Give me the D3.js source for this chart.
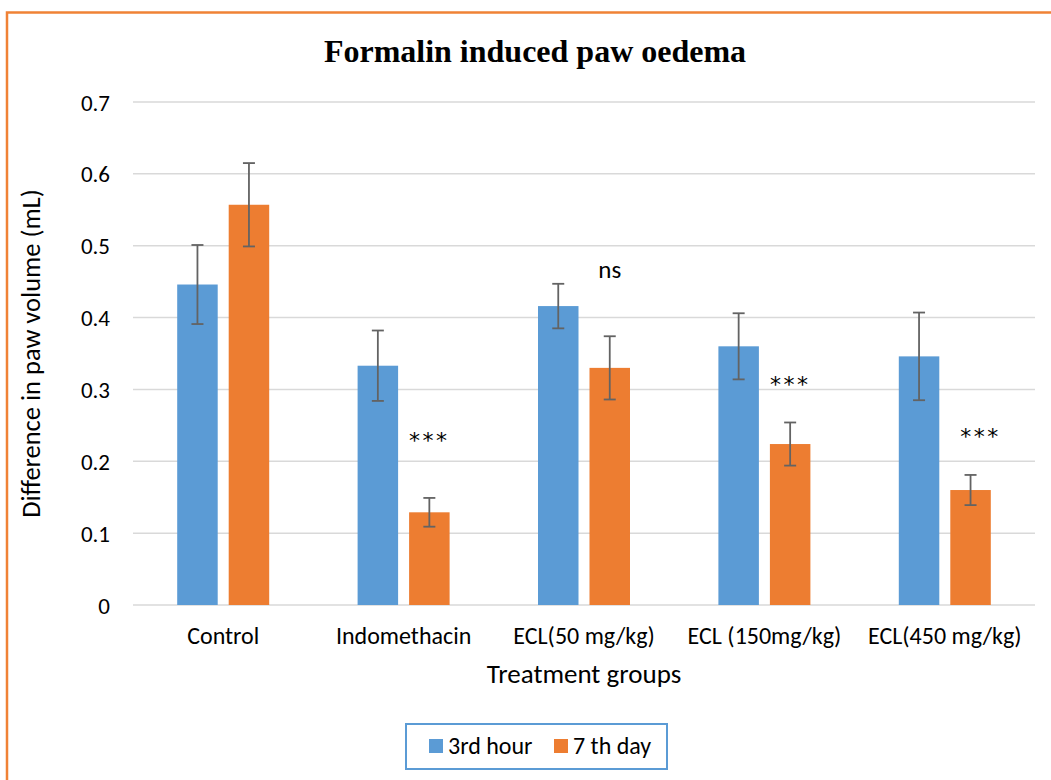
<!DOCTYPE html>
<html>
<head>
<meta charset="utf-8">
<script src="https://cdn.jsdelivr.net/npm/d3@7/dist/d3.min.js"></script>
<style>
  html, body { margin: 0; padding: 0; background: #fff; }
  svg { display: block; }
</style>
</head>
<body>
<svg id="chart" width="1051" height="780"></svg>
<script>
// ---- data ----
const categories = ["Control", "Indomethacin", "ECL(50 mg/kg)", "ECL (150mg/kg)", "ECL(450 mg/kg)"];
const seriesNames = ["3rd hour", "7 th day"];
const hour3Values = [0.446, 0.333, 0.416, 0.360, 0.346];
const hour3Errors = [0.055, 0.049, 0.031, 0.046, 0.061];
const day7Values = [0.557, 0.129, 0.330, 0.224, 0.160];
const day7Errors = [0.058, 0.020, 0.044, 0.030, 0.021];
const yTicks = [0, 0.1, 0.2, 0.3, 0.4, 0.5, 0.6, 0.7];
const annotationTexts = ["", "***", "ns", "***", "***"];
const annotationValues = [null, 0.223, 0.455, 0.300, 0.228];
const colors = ["#5B9BD5", "#ED7D31"];

const SANS = "Carlito, Calibri, Lato, sans-serif";

// ---- layout ----
const svg = d3.select("#chart");
const plot = { left: 133, right: 1035, top: 102, bottom: 605 };

// chart border (orange)
svg.append("rect")
  .attr("x", 7).attr("y", 12.5)
  .attr("width", 1200).attr("height", 1000)
  .attr("fill", "none")
  .attr("stroke", "#F08236").attr("stroke-width", 2.5);

const y = d3.scaleLinear().domain([0, 0.7]).range([plot.bottom, plot.top]);
const x0 = d3.scaleBand().domain(categories).range([plot.left, plot.right]).padding(0);
const groupW = 92;
const x1 = d3.scaleBand().domain(seriesNames)
  .range([-groupW / 2, groupW / 2]).paddingInner(11 / 51.5).paddingOuter(0);

// gridlines
svg.append("g").selectAll("line").data(yTicks).join("line")
  .attr("x1", plot.left).attr("x2", plot.right)
  .attr("y1", d => y(d)).attr("y2", d => y(d))
  .attr("stroke", "#D9D9D9").attr("stroke-width", 1.5);

// y tick labels
const yAxis = d3.axisLeft(y).tickValues(yTicks).tickSize(0).tickPadding(0)
  .tickFormat(d => d === 0 ? "0" : d3.format(".1f")(d));
const gy = svg.append("g").attr("transform", `translate(110,0)`).call(yAxis);
gy.select(".domain").remove();
gy.selectAll("text").style("font-size", "23px").style("font-family", SANS)
  .attr("fill", "#000").attr("dy", "0.35em");

// x tick labels
const xAxis = d3.axisBottom(x0).tickSize(0).tickPadding(0);
const gx = svg.append("g").attr("transform", `translate(0,${plot.bottom})`).call(xAxis);
gx.select(".domain").remove();
gx.selectAll("text").style("font-size", "24px").style("font-family", SANS)
  .attr("fill", "#000").attr("dy", null).attr("y", 39);

// bars
const seriesData = [
  { name: seriesNames[0], values: hour3Values, errors: hour3Errors, color: colors[0] },
  { name: seriesNames[1], values: day7Values, errors: day7Errors, color: colors[1] }
];
seriesData.forEach(s => {
  const g = svg.append("g");
  const items = categories.map((c, i) => ({ c, v: s.values[i], e: s.errors[i] }));
  g.selectAll("rect").data(items).join("rect")
    .attr("x", d => x0(d.c) + x0.bandwidth() / 2 + x1(s.name))
    .attr("y", d => y(d.v))
    .attr("width", x1.bandwidth())
    .attr("height", d => y(0) - y(d.v))
    .attr("fill", s.color);
  // error bars
  const eg = svg.append("g").attr("stroke", "#636363").attr("stroke-width", 1.8);
  items.forEach(d => {
    const cx = x0(d.c) + x0.bandwidth() / 2 + x1(s.name) + x1.bandwidth() / 2;
    const yt = y(d.v + d.e), yb = y(d.v - d.e);
    eg.append("line").attr("x1", cx).attr("x2", cx).attr("y1", yt).attr("y2", yb);
    eg.append("line").attr("x1", cx - 6).attr("x2", cx + 6).attr("y1", yt).attr("y2", yt);
    eg.append("line").attr("x1", cx - 6).attr("x2", cx + 6).attr("y1", yb).attr("y2", yb);
  });
});

// annotations
categories.forEach((c, i) => {
  const t = annotationTexts[i];
  if (!t) return;
  const cx = x0(c) + x0.bandwidth() / 2 + x1(seriesNames[1]) + x1.bandwidth() / 2 + (i === 4 ? 10 : 0);
  const isNs = t === "ns";
  svg.append("text")
    .attr("x", cx).attr("y", y(annotationValues[i]) + (isNs ? 0 : 3))
    .attr("text-anchor", "middle")
    .style("font-family", isNs ? SANS : "'DejaVu Sans', sans-serif")
    .style("font-size", isNs ? "25px" : "22px")
    .style("letter-spacing", isNs ? "0px" : "2.5px")
    .attr("fill", "#000")
    .text(t);
});

// title
svg.append("text")
  .attr("x", 535).attr("y", 62)
  .attr("text-anchor", "middle")
  .style("font-family", "'Liberation Serif', 'Times New Roman', serif")
  .style("font-weight", "bold")
  .style("font-size", "32px")
  .attr("fill", "#000")
  .text("Formalin induced paw oedema");

// axis titles
svg.append("text")
  .attr("transform", `translate(40,${(plot.top + plot.bottom) / 2}) rotate(-90)`)
  .attr("text-anchor", "middle")
  .style("font-family", SANS).style("font-size", "26.5px")
  .attr("fill", "#000")
  .text("Difference in paw volume (mL)");

svg.append("text")
  .attr("x", (plot.left + plot.right) / 2).attr("y", 683)
  .attr("text-anchor", "middle")
  .style("font-family", SANS).style("font-size", "27px")
  .attr("fill", "#000")
  .text("Treatment groups");

// legend
const lg = svg.append("g");
lg.append("rect").attr("x", 406).attr("y", 724).attr("width", 261).attr("height", 45)
  .attr("fill", "#fff").attr("stroke", "#5B9BD5").attr("stroke-width", 2);
const legendX = [429, 554];
seriesNames.forEach((n, i) => {
  lg.append("rect").attr("x", legendX[i]).attr("y", 739).attr("width", 14).attr("height", 14)
    .attr("fill", colors[i]);
  lg.append("text").attr("x", legendX[i] + 19).attr("y", 754)
    .style("font-family", SANS).style("font-size", "24px")
    .attr("fill", "#000").text(n);
});
</script>
</body>
</html>
